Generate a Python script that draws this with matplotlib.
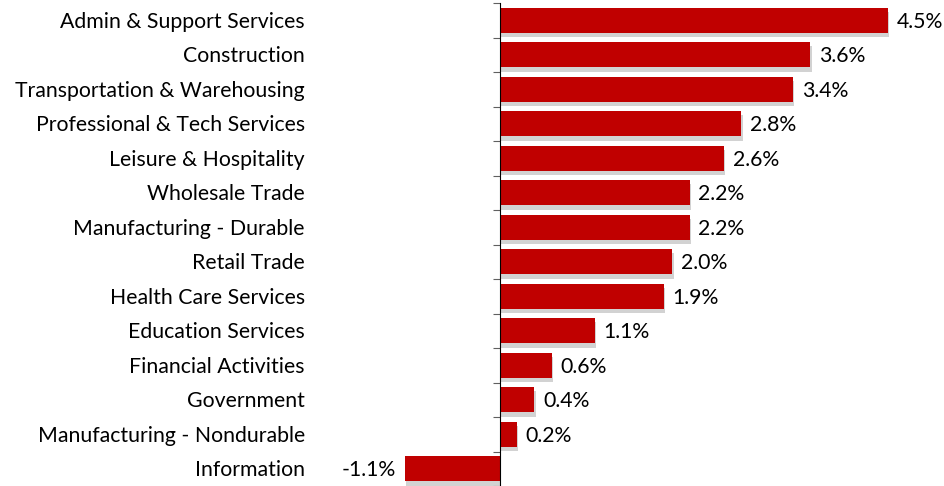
import numpy as np
import matplotlib.pyplot as plt
import matplotlib.patheffects as pe

industries = ["Admin & Support Services", "Construction", "Transportation & Warehousing",
              "Professional & Tech Services", "Leisure & Hospitality", "Wholesale Trade",
              "Manufacturing - Durable", "Retail Trade", "Health Care Services",
              "Education Services", "Financial Activities", "Government",
              "Manufacturing - Nondurable", "Information"]
growth = [4.5, 3.6, 3.4, 2.8, 2.6, 2.2, 2.2, 2.0, 1.9, 1.1, 0.6, 0.4, 0.2, -1.1]

plt.rcParams["font.family"] = ["Lato", "DejaVu Sans"]

fig = plt.figure(figsize=(9.44, 4.86), dpi=100)
# axes in pixel terms: left 310, right 944, top 3, bottom 486
ax = fig.add_axes([310/944, 0, 634/944, 483/486])

y = np.arange(len(industries))
bars = ax.barh(y, growth, height=0.73, color="#c00000", zorder=2)
for b in bars:
    b.set_path_effects([pe.SimplePatchShadow(offset=(1, -3), shadow_rgbFace="gray", alpha=0.35), pe.Normal()])

ax.set_ylim(len(industries) - 0.5, -0.5)
ax.set_xlim(-2.2, 5.15)

for s in ["top", "right", "bottom"]:
    ax.spines[s].set_visible(False)
ax.spines["left"].set_position(("data", 0))
ax.spines["left"].set_color("black")
ax.set_xticks([])
ax.set_yticks(np.arange(len(industries) + 1) - 0.5)
ax.set_yticklabels([])
ax.tick_params(axis="y", direction="out", length=5, color="#606060")

for i, name in enumerate(industries):
    ax.text(-0.008, i + 0.04, name, transform=ax.get_yaxis_transform(), ha="right", va="center", fontsize=15.3)

for i, v in enumerate(growth):
    if v >= 0:
        ax.text(v + 0.1, i + 0.04, f"{v:.1f}%", ha="left", va="center", fontsize=15.3)
    else:
        ax.text(v - 0.1, i + 0.04, f"{v:.1f}%", ha="right", va="center", fontsize=15.3)

fig.savefig("out.png", dpi=100)
